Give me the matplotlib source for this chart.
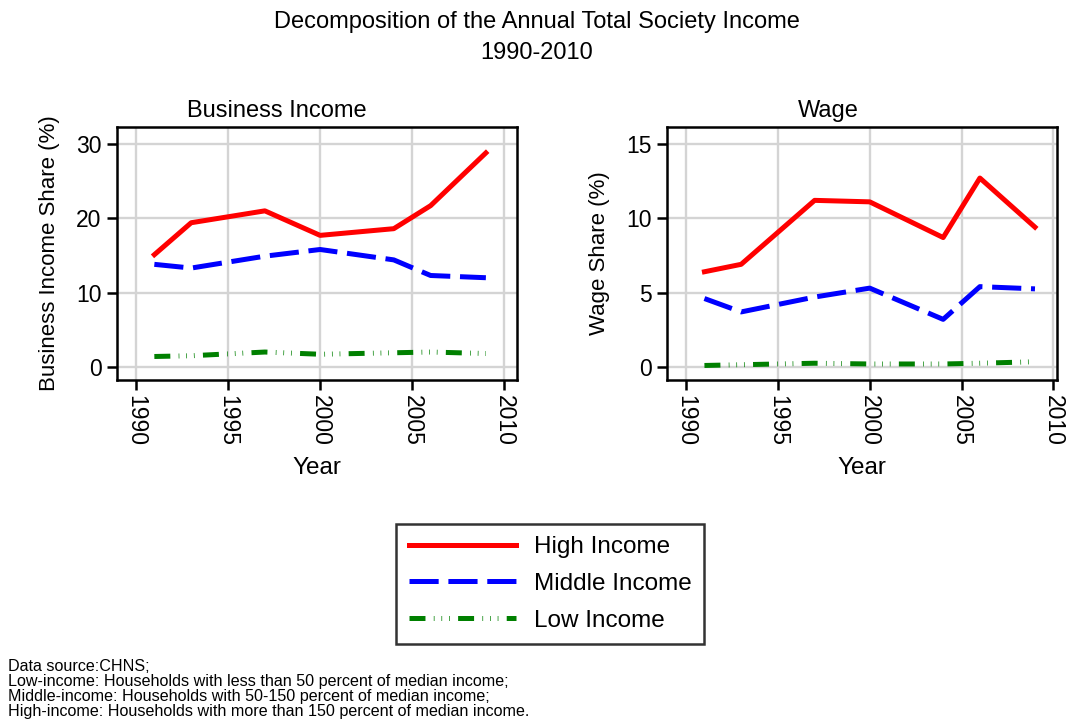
import matplotlib.pyplot as plt
from matplotlib.lines import Line2D

plt.rcParams['font.family'] = ['Liberation Sans', 'DejaVu Sans']
plt.rcParams['lines.scale_dashes'] = False

# data (CHNS waves)
years = [1991, 1993, 1997, 2000, 2004, 2006, 2009]
biz_high = [15.1, 19.4, 21.0, 17.7, 18.6, 21.7, 28.8]
biz_mid = [13.8, 13.3, 14.9, 15.8, 14.4, 12.3, 12.0]
biz_low = [1.4, 1.5, 2.0, 1.7, 1.9, 2.0, 1.8]
wage_high = [6.4, 6.9, 11.2, 11.1, 8.7, 12.7, 9.4]
wage_mid = [4.6, 3.7, 4.7, 5.3, 3.2, 5.4, 5.25]
wage_low = [0.1, 0.15, 0.25, 0.2, 0.2, 0.25, 0.35]

xticks = [1990, 1995, 2000, 2005, 2010]
labels = ['High Income', 'Middle Income', 'Low Income']

lw = 3.6
sty_high = dict(color='#ff0000', lw=lw, linestyle='-')
sty_mid = dict(color='#0000ff', lw=lw, linestyle=(0, (21, 7)))
sty_low = dict(color='#008000', lw=lw, linestyle=(0, (11.5, 6, 0.5, 5, 0.5, 5, 0.5, 6)))

fig = plt.figure(figsize=(10.73, 7.25), dpi=100)
ax1 = fig.add_axes([0.109, 0.476, 0.373, 0.349])
ax2 = fig.add_axes([0.6216, 0.476, 0.3635, 0.349])

def panel(ax, hi, mi, lo, title, tx, ylab, yticks, ylim):
    ax.plot(years, hi, **sty_high, zorder=3)
    ax.plot(years, mi, **sty_mid, zorder=3)
    ax.plot(years, lo, **sty_low, zorder=3)
    ax.set_xlim(1988.97, 2010.7)
    ax.set_ylim(*ylim)
    ax.set_xticks(xticks)
    ax.set_yticks(yticks)
    ax.grid(True, color='#d4d4d4', lw=1.7)
    ax.set_axisbelow(True)
    for s in ax.spines.values():
        s.set_linewidth(1.8)
    ax.tick_params(direction='out', length=7, width=1.8, labelsize=16.5, pad=4)
    for t in ax.get_xticklabels():
        t.set_rotation(270)
    ax.set_title(title, fontsize=17, pad=7, x=tx)
    ax.set_xlabel('Year', fontsize=17.5, labelpad=8)
    ax.set_ylabel(ylab, fontsize=16, labelpad=12)

panel(ax1, biz_high, biz_mid, biz_low, 'Business Income', 0.40, 'Business Income Share (%)',
      [0, 10, 20, 30], (-1.75, 32.3))
panel(ax2, wage_high, wage_mid, wage_low, 'Wage', 0.413, 'Wage Share (%)',
      [0, 5, 10, 15], (-0.87, 16.14))
ax2.set_xlim(1988.96, 2010.2)

fig.text(0.5, 0.970, 'Decomposition of the Annual Total Society Income', ha='center', va='center', fontsize=17)
fig.text(0.5, 0.927, '1990-2010', ha='center', va='center', fontsize=17)

handles = [Line2D([], [], **sty_high), Line2D([], [], **sty_mid), Line2D([], [], **sty_low)]
leg = fig.legend(handles, labels, loc='center', bbox_to_anchor=(0.5126, 0.1945),
                 fontsize=17.5, handlelength=4.4, handletextpad=0.75, labelspacing=0.6,
                 frameon=True, fancybox=False, edgecolor='black', borderpad=0.5)
leg.get_frame().set_linewidth(1.8)

fig.text(0.007, 0.008,
         'Data source:CHNS;\n'
         'Low-income: Households with less than 50 percent of median income;\n'
         'Middle-income: Households with 50-150 percent of median income;\n'
         'High-income: Households with more than 150 percent of median income.',
         ha='left', va='bottom', fontsize=11.6, linespacing=1.0)

fig.savefig('out.png', dpi=100)
